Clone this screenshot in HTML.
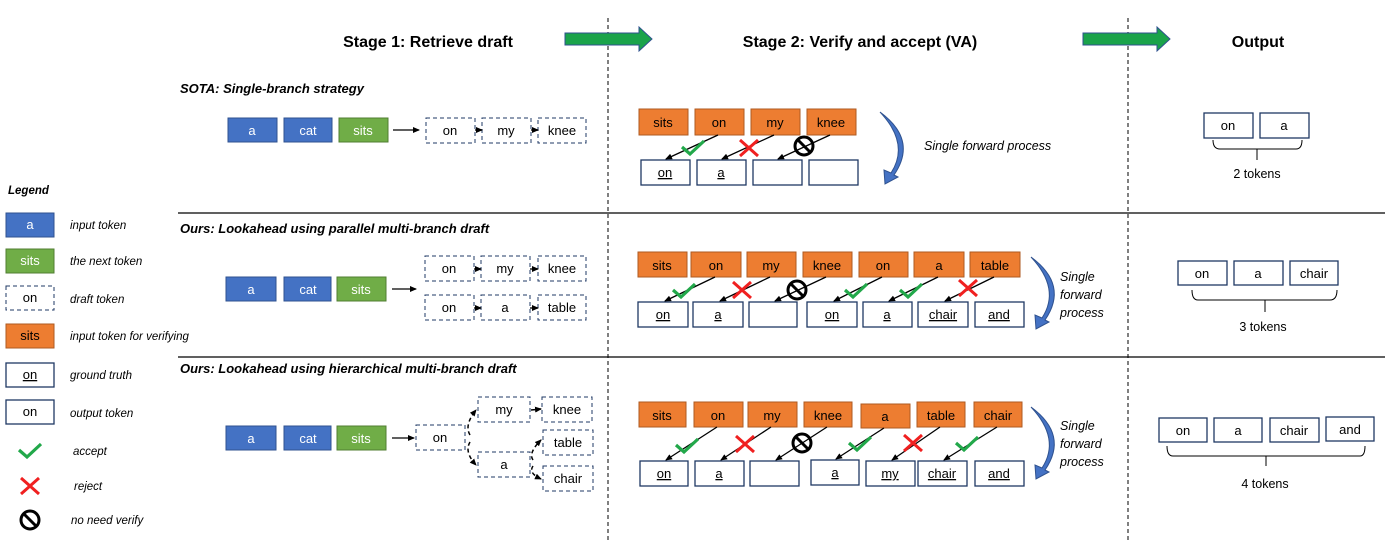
<!DOCTYPE html>
<html><head><meta charset="utf-8"><style>
html,body{margin:0;padding:0;background:#fff}
svg{display:block}
text{font-family:"Liberation Sans",sans-serif}
.t{font-size:13px;text-anchor:middle}
.w{fill:#fff}
.it{font-style:italic;font-size:11.5px}
.h{font-weight:bold;font-size:16px;text-anchor:middle}
.sub{font-weight:bold;font-style:italic;font-size:13px}
.bl{fill:#4472C4;stroke:#2F528F}
.gr{fill:#70AD47;stroke:#507E32}
.or{fill:#ED7D31;stroke:#AE5A21}
.ou{fill:#fff;stroke:#1F3864;stroke-width:1.3}
.dr{fill:#fff;stroke:#1F3864;stroke-dasharray:4 3}
.ar{stroke:#000;stroke-width:1.3;fill:none;marker-end:url(#ah)}
.da{stroke:#000;stroke-width:1.5;fill:none;stroke-dasharray:4 3;marker-end:url(#ah)}
.u{text-decoration:underline}
</style></head><body>
<svg width="1385" height="542" viewBox="0 0 1385 542" xmlns="http://www.w3.org/2000/svg">
<defs>
<marker id="ah" markerWidth="8" markerHeight="8" refX="6" refY="4" orient="auto" markerUnits="userSpaceOnUse"><path d="M0,1 L7,4 L0,7 Z" fill="#000"/></marker>
<g id="ck"><polyline points="-11,-1 -3,6 11,-7" fill="none" stroke="#22A84A" stroke-width="3.2"/></g>
<g id="cx"><path d="M-9,-8 L9,8 M9,-8 L-9,8" stroke="#F02020" stroke-width="3"/></g>
<g id="nv"><circle r="9" fill="none" stroke="#000" stroke-width="3"/><path d="M-6,-6 L6,6" stroke="#000" stroke-width="3"/></g>
<g id="cv"><path d="M0,0 Q30,32 11,61 L4,58 L5,72 L18,65 L14,63 Q38,28 0,0 Z" fill="#4472C4" stroke="#2F528F" stroke-width="1"/></g>
<g id="ga"><path d="M0,6 L74,6 L74,0 L87,12 L74,24 L74,18 L0,18 Z" fill="#1AA34A" stroke="#2F528F" stroke-width="1"/></g>
</defs>

<line x1="608" y1="18" x2="608" y2="542" stroke="#000" stroke-dasharray="4 3"/>
<line x1="1128" y1="18" x2="1128" y2="542" stroke="#000" stroke-dasharray="4 3"/>
<line x1="178" y1="213" x2="1385" y2="213" stroke="#000" stroke-width="1.2"/>
<line x1="178" y1="357" x2="1385" y2="357" stroke="#000" stroke-width="1.2"/>

<text class="h" x="428" y="47">Stage 1: Retrieve draft</text>
<text class="h" x="860" y="47">Stage 2: Verify and accept (VA)</text>
<text class="h" x="1258" y="47">Output</text>
<use href="#ga" x="565" y="27"/>
<use href="#ga" x="1083" y="27"/>

<text class="sub" x="180" y="93">SOTA: Single-branch strategy</text>
<text class="sub" x="180" y="233">Ours: Lookahead using parallel multi-branch draft</text>
<text class="sub" x="180" y="373">Ours: Lookahead using hierarchical multi-branch draft</text>

<text x="8" y="194" style="font-weight:bold;font-style:italic;font-size:11.5px">Legend</text>
<rect class="bl" x="6" y="213" width="48" height="24"/><text class="t w" x="30" y="229">a</text>
<rect class="gr" x="6" y="249" width="48" height="24"/><text class="t w" x="30" y="265">sits</text>
<rect class="dr" x="6" y="286" width="48" height="24"/><text class="t" x="30" y="302">on</text>
<rect class="or" x="6" y="324" width="48" height="24"/><text class="t" x="30" y="340">sits</text>
<rect class="ou" x="6" y="363" width="48" height="24"/><text class="t u" x="30" y="379">on</text>
<rect class="ou" x="6" y="400" width="48" height="24"/><text class="t" x="30" y="416">on</text>
<use href="#ck" x="30" y="451"/>
<use href="#cx" x="30" y="486"/>
<use href="#nv" x="30" y="520"/>
<text class="it" x="70" y="229">input token</text>
<text class="it" x="70" y="265">the next token</text>
<text class="it" x="70" y="303">draft token</text>
<text class="it" x="70" y="340">input token for verifying</text>
<text class="it" x="70" y="379">ground truth</text>
<text class="it" x="70" y="417">output token</text>
<text class="it" x="73" y="455">accept</text>
<text class="it" x="74" y="490">reject</text>
<text class="it" x="71" y="524">no need verify</text>

<rect class="bl" x="228" y="118" width="49" height="24"/><text class="t w" x="252" y="135">a</text>
<rect class="bl" x="284" y="118" width="48" height="24"/><text class="t w" x="308" y="135">cat</text>
<rect class="gr" x="339" y="118" width="49" height="24"/><text class="t w" x="363" y="135">sits</text>
<line class="ar" x1="393" y1="130" x2="419" y2="130"/>
<rect class="dr" x="426" y="118" width="49" height="25"/><text class="t" x="450" y="135">on</text>
<rect class="dr" x="482" y="118" width="49" height="25"/><text class="t" x="506" y="135">my</text>
<rect class="dr" x="538" y="118" width="48" height="25"/><text class="t" x="562" y="135">knee</text>
<line class="ar" x1="475" y1="130" x2="482" y2="130"/>
<line class="ar" x1="531" y1="130" x2="538" y2="130"/>

<rect class="or" x="639" y="109" width="49" height="26"/><text class="t" x="663" y="127">sits</text>
<rect class="or" x="695" y="109" width="49" height="26"/><text class="t" x="719" y="127">on</text>
<rect class="or" x="751" y="109" width="49" height="26"/><text class="t" x="775" y="127">my</text>
<rect class="or" x="807" y="109" width="49" height="26"/><text class="t" x="831" y="127">knee</text>
<rect class="ou" x="641" y="160" width="49" height="25"/><text class="t u" x="665" y="177">on</text>
<rect class="ou" x="697" y="160" width="49" height="25"/><text class="t u" x="721" y="177">a</text>
<rect class="ou" x="753" y="160" width="49" height="25"/>
<rect class="ou" x="809" y="160" width="49" height="25"/>
<line class="ar" x1="718" y1="135" x2="666" y2="159"/>
<line class="ar" x1="774" y1="135" x2="722" y2="159"/>
<line class="ar" x1="830" y1="135" x2="778" y2="159"/>
<use href="#ck" x="693" y="148"/><use href="#cx" x="749" y="148"/><use href="#nv" x="804" y="146"/>
<use href="#cv" x="880" y="112"/>
<text x="924" y="150" style="font-style:italic;font-size:12.5px">Single forward process</text>

<rect class="ou" x="1204" y="113" width="49" height="25"/><text class="t" x="1228" y="130">on</text>
<rect class="ou" x="1260" y="113" width="49" height="25"/><text class="t" x="1284" y="130">a</text>
<path d="M1213,140 Q1213,149 1220,149 L1296,149 Q1302,149 1302,140 M1257,149 L1257,160" fill="none" stroke="#000" stroke-width="1"/>
<text class="t" x="1257" y="178" style="font-size:12.5px">2 tokens</text>

<rect class="bl" x="226" y="277" width="50" height="24"/><text class="t w" x="251" y="294">a</text>
<rect class="bl" x="284" y="277" width="47" height="24"/><text class="t w" x="308" y="294">cat</text>
<rect class="gr" x="337" y="277" width="49" height="24"/><text class="t w" x="361" y="294">sits</text>
<line class="ar" x1="392" y1="289" x2="416" y2="289"/>
<rect class="dr" x="425" y="256" width="49" height="25"/><text class="t" x="449" y="273">on</text>
<rect class="dr" x="481" y="256" width="49" height="25"/><text class="t" x="505" y="273">my</text>
<rect class="dr" x="538" y="256" width="48" height="25"/><text class="t" x="562" y="273">knee</text>
<rect class="dr" x="425" y="295" width="49" height="25"/><text class="t" x="449" y="312">on</text>
<rect class="dr" x="481" y="295" width="49" height="25"/><text class="t" x="505" y="312">a</text>
<rect class="dr" x="538" y="295" width="48" height="25"/><text class="t" x="562" y="312">table</text>
<line class="ar" x1="474" y1="269" x2="481" y2="269"/>
<line class="ar" x1="530" y1="269" x2="538" y2="269"/>
<line class="ar" x1="474" y1="308" x2="481" y2="308"/>
<line class="ar" x1="530" y1="308" x2="538" y2="308"/>

<rect class="or" x="638" y="252" width="49" height="25"/><text class="t" x="662" y="270">sits</text>
<rect class="or" x="691" y="252" width="50" height="25"/><text class="t" x="716" y="270">on</text>
<rect class="or" x="747" y="252" width="49" height="25"/><text class="t" x="771" y="270">my</text>
<rect class="or" x="803" y="252" width="49" height="25"/><text class="t" x="827" y="270">knee</text>
<rect class="or" x="859" y="252" width="49" height="25"/><text class="t" x="883" y="270">on</text>
<rect class="or" x="914" y="252" width="50" height="25"/><text class="t" x="939" y="270">a</text>
<rect class="or" x="970" y="252" width="50" height="25"/><text class="t" x="995" y="270">table</text>
<rect class="ou" x="638" y="302" width="50" height="25"/><text class="t u" x="663" y="319">on</text>
<rect class="ou" x="693" y="302" width="50" height="25"/><text class="t u" x="718" y="319">a</text>
<rect class="ou" x="749" y="302" width="48" height="25"/>
<rect class="ou" x="807" y="302" width="50" height="25"/><text class="t u" x="832" y="319">on</text>
<rect class="ou" x="863" y="302" width="49" height="25"/><text class="t u" x="887" y="319">a</text>
<rect class="ou" x="918" y="302" width="50" height="25"/><text class="t u" x="943" y="319">chair</text>
<rect class="ou" x="975" y="302" width="49" height="25"/><text class="t u" x="999" y="319">and</text>
<line class="ar" x1="715" y1="277" x2="665" y2="301"/>
<line class="ar" x1="770" y1="277" x2="720" y2="301"/>
<line class="ar" x1="826" y1="277" x2="775" y2="301"/>
<line class="ar" x1="882" y1="277" x2="834" y2="301"/>
<line class="ar" x1="938" y1="277" x2="889" y2="301"/>
<line class="ar" x1="994" y1="277" x2="945" y2="301"/>
<use href="#ck" x="684" y="291"/><use href="#cx" x="742" y="290"/><use href="#nv" x="797" y="290"/>
<use href="#ck" x="856" y="291"/><use href="#ck" x="911" y="291"/><use href="#cx" x="968" y="288"/>
<use href="#cv" x="1031" y="257"/>
<text x="1060" y="281" style="font-style:italic;font-size:12.5px">Single</text>
<text x="1060" y="299" style="font-style:italic;font-size:12.5px">forward</text>
<text x="1060" y="317" style="font-style:italic;font-size:12.5px">process</text>

<rect class="ou" x="1178" y="261" width="49" height="24"/><text class="t" x="1202" y="278">on</text>
<rect class="ou" x="1234" y="261" width="49" height="24"/><text class="t" x="1258" y="278">a</text>
<rect class="ou" x="1290" y="261" width="48" height="24"/><text class="t" x="1314" y="278">chair</text>
<path d="M1192,290 Q1192,300 1198,300 L1330,300 Q1337,300 1337,290 M1265,300 L1265,312" fill="none" stroke="#000" stroke-width="1"/>
<text class="t" x="1263" y="331" style="font-size:12.5px">3 tokens</text>

<rect class="bl" x="226" y="426" width="50" height="24"/><text class="t w" x="251" y="443">a</text>
<rect class="bl" x="284" y="426" width="47" height="24"/><text class="t w" x="308" y="443">cat</text>
<rect class="gr" x="337" y="426" width="49" height="24"/><text class="t w" x="361" y="443">sits</text>
<line class="ar" x1="392" y1="438" x2="414" y2="438"/>
<rect class="dr" x="416" y="425" width="49" height="25"/><text class="t" x="440" y="442">on</text>
<rect class="dr" x="478" y="397" width="52" height="25"/><text class="t" x="504" y="414">my</text>
<rect class="dr" x="542" y="397" width="50" height="25"/><text class="t" x="567" y="414">knee</text>
<rect class="dr" x="478" y="452" width="52" height="25"/><text class="t" x="504" y="469">a</text>
<rect class="dr" x="543" y="430" width="50" height="25"/><text class="t" x="568" y="447">table</text>
<rect class="dr" x="543" y="466" width="50" height="25"/><text class="t" x="568" y="483">chair</text>
<path class="da" d="M470,435 Q464,425 476,410"/>
<path class="da" d="M470,442 Q464,452 476,465"/>
<line class="da" x1="531" y1="410" x2="541" y2="409"/>
<path class="da" d="M533,460 Q528,453 541,440"/>
<path class="da" d="M533,466 Q528,473 541,479"/>

<rect class="or" x="639" y="402" width="47" height="25"/><text class="t" x="662" y="420">sits</text>
<rect class="or" x="694" y="402" width="49" height="25"/><text class="t" x="718" y="420">on</text>
<rect class="or" x="748" y="402" width="49" height="25"/><text class="t" x="772" y="420">my</text>
<rect class="or" x="804" y="402" width="48" height="25"/><text class="t" x="828" y="420">knee</text>
<rect class="or" x="861" y="404" width="49" height="24"/><text class="t" x="885" y="421">a</text>
<rect class="or" x="917" y="402" width="48" height="25"/><text class="t" x="941" y="420">table</text>
<rect class="or" x="974" y="402" width="48" height="25"/><text class="t" x="998" y="420">chair</text>
<rect class="ou" x="640" y="461" width="48" height="25"/><text class="t u" x="664" y="478">on</text>
<rect class="ou" x="695" y="461" width="49" height="25"/><text class="t u" x="719" y="478">a</text>
<rect class="ou" x="750" y="461" width="49" height="25"/>
<rect class="ou" x="811" y="460" width="48" height="25"/><text class="t u" x="835" y="477">a</text>
<rect class="ou" x="866" y="461" width="49" height="25"/><text class="t u" x="890" y="478">my</text>
<rect class="ou" x="918" y="461" width="49" height="25"/><text class="t u" x="942" y="478">chair</text>
<rect class="ou" x="975" y="461" width="49" height="25"/><text class="t u" x="999" y="478">and</text>
<line class="ar" x1="717" y1="427" x2="666" y2="460"/>
<line class="ar" x1="771" y1="427" x2="721" y2="460"/>
<line class="ar" x1="827" y1="427" x2="776" y2="460"/>
<line class="ar" x1="884" y1="428" x2="836" y2="459"/>
<line class="ar" x1="940" y1="427" x2="892" y2="460"/>
<line class="ar" x1="997" y1="427" x2="944" y2="460"/>
<use href="#ck" x="687" y="446"/><use href="#cx" x="745" y="444"/><use href="#nv" x="802" y="443"/>
<use href="#ck" x="860" y="444"/><use href="#cx" x="913" y="443"/><use href="#ck" x="967" y="444"/>
<use href="#cv" x="1031" y="407"/>
<text x="1060" y="430" style="font-style:italic;font-size:12.5px">Single</text>
<text x="1060" y="448" style="font-style:italic;font-size:12.5px">forward</text>
<text x="1060" y="466" style="font-style:italic;font-size:12.5px">process</text>

<rect class="ou" x="1159" y="418" width="48" height="24"/><text class="t" x="1183" y="435">on</text>
<rect class="ou" x="1214" y="418" width="48" height="24"/><text class="t" x="1238" y="435">a</text>
<rect class="ou" x="1270" y="418" width="49" height="24"/><text class="t" x="1294" y="435">chair</text>
<rect class="ou" x="1326" y="417" width="48" height="24"/><text class="t" x="1350" y="434">and</text>
<path d="M1167,446 Q1167,456 1173,456 L1360,456 Q1365,456 1365,446 M1266,456 L1266,466" fill="none" stroke="#000" stroke-width="1"/>
<text class="t" x="1265" y="488" style="font-size:12.5px">4 tokens</text>
</svg>
</body></html>
